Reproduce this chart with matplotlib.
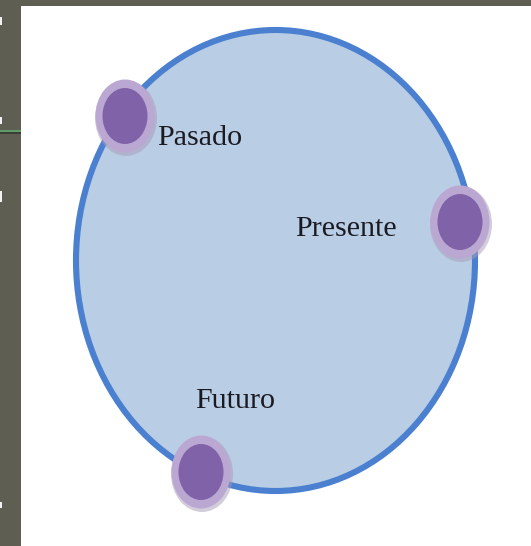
import matplotlib
matplotlib.use("Agg")
import matplotlib.pyplot as plt
from matplotlib.patches import Ellipse, Rectangle

# ---- data ----
labels = ["Pasado", "Presente", "Futuro"]
dot_x = [125, 460, 201]
dot_y = [116, 222, 472]
label_x = [157, 295, 195]
label_y = [145, 236, 408]

W, H = 531, 546
fig = plt.figure(figsize=(W / 100, H / 100), dpi=100)
fig.patch.set_facecolor("#5e5f52")
ax = fig.add_axes([0, 0, 1, 1])
ax.set_xlim(0, W)
ax.set_ylim(H, 0)
ax.axis("off")

# white slide area
ax.add_patch(Rectangle((21, 6), W - 21, H - 6, facecolor="white", edgecolor="none", zorder=1))
# left-edge details
for y0, y1 in [(17, 25), (117, 124), (191, 202), (502, 508)]:
    ax.add_patch(Rectangle((0, y0), 2, y1 - y0, facecolor="#f2f2f2", edgecolor="none", zorder=2))
ax.add_patch(Rectangle((0, 130), 21, 2, facecolor="#5f9a6b", edgecolor="none", zorder=2))
ax.add_patch(Rectangle((0, 132), 21, 2, facecolor="#3c3d34", edgecolor="none", zorder=2))

# big circle
ax.add_patch(Ellipse((275.5, 260.5), 399, 461, facecolor="#b9cde5",
                     edgecolor="#4a80cf", linewidth=4.4, zorder=3))

# dots
for x, y in zip(dot_x, dot_y):
    ax.add_patch(Ellipse((x + 1, y + 2), 62, 76, facecolor="#a89bb8", edgecolor="none", alpha=0.5, zorder=4))
    ax.add_patch(Ellipse((x, y), 59, 73, facecolor="#bba8d2", edgecolor="none", zorder=5))
    ax.add_patch(Ellipse((x, y), 45, 56, facecolor="#8062a8", edgecolor="none", zorder=6))

# labels
for t, x, y in zip(labels, label_x, label_y):
    ax.text(x, y, t, fontsize=21.6, family="Liberation Serif", color="#1a1a22",
            ha="left", va="baseline", zorder=7)

fig.savefig("out.png", dpi=100, facecolor=fig.get_facecolor())
